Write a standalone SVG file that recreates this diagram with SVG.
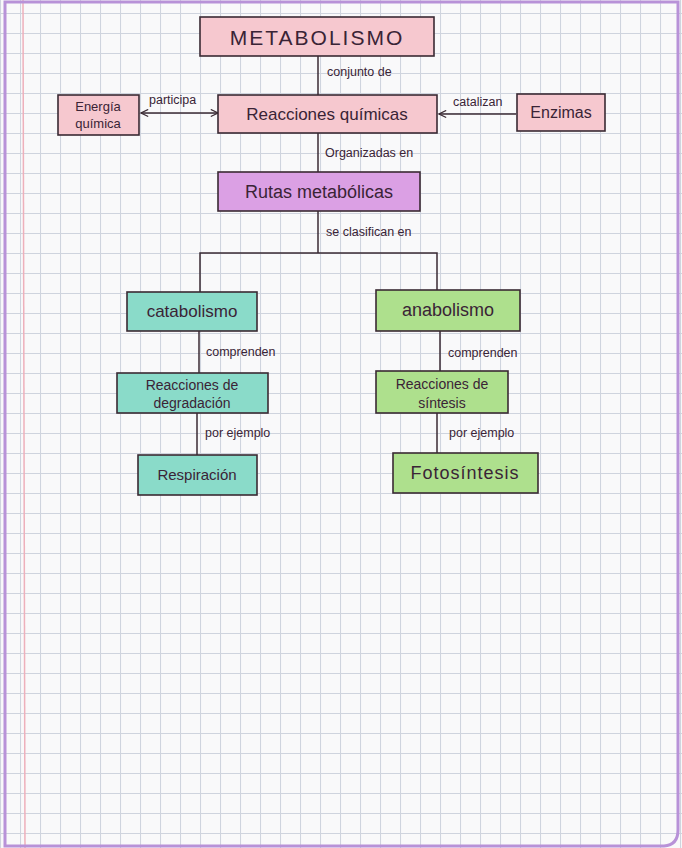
<svg xmlns="http://www.w3.org/2000/svg" width="682" height="848" viewBox="0 0 682 848">
<defs>
<pattern id="grid" x="0" y="13" width="20" height="20" patternUnits="userSpaceOnUse">
<path d="M0 0.5 H20 M0.5 0 V20" stroke="#cfd4de" stroke-width="1.1" fill="none"/>
</pattern>
<marker id="arr" viewBox="0 0 10 10" refX="9" refY="5" markerWidth="9" markerHeight="9" orient="auto-start-reverse" markerUnits="userSpaceOnUse">
<path d="M1 1 L9 5 L1 9" fill="none" stroke="#3a2a33" stroke-width="1.3"/>
</marker>
<style>
.box{stroke:#3a2a33;stroke-width:1.6}
.pink{fill:#f6c8cf}
.purple{fill:#dba0e4}
.teal{fill:#8adbc9}
.green{fill:#aee08d}
.t{font-family:"Liberation Sans","DejaVu Sans",sans-serif;fill:#3a2436;text-anchor:middle}
.lbl{font-family:"Liberation Sans","DejaVu Sans",sans-serif;font-size:12.5px;fill:#3a2436}
.con{stroke:#3a2a33;stroke-width:1.5;fill:none}
</style>
</defs>
<rect width="682" height="848" fill="#f9f9fa"/>
<rect width="682" height="848" fill="url(#grid)"/>
<line x1="23" y1="0" x2="25" y2="848" stroke="#eeb0bb" stroke-width="1.5"/>
<path d="M5 2 H678 V830 Q678 845 664 846 H5 Z" fill="none" stroke="#b892d8" stroke-width="3"/>

<g id="connectors">
<line class="con" x1="318" y1="56" x2="318" y2="95"/>
<text class="lbl" x="327" y="76">conjunto de</text>
<line class="con" x1="218" y1="113" x2="141" y2="113" marker-start="url(#arr)" marker-end="url(#arr)"/>
<text class="lbl" x="149" y="104">participa</text>
<line class="con" x1="516" y1="114" x2="439" y2="114" marker-end="url(#arr)"/>
<text class="lbl" x="453" y="106">catalizan</text>
<line class="con" x1="318" y1="133" x2="318" y2="172"/>
<text class="lbl" x="325" y="157">Organizadas en</text>
<line class="con" x1="318" y1="211" x2="318" y2="253"/>
<text class="lbl" x="326" y="236">se clasifican en</text>
<path class="con" d="M200 292 V253 H437 V291"/>
<line class="con" x1="199" y1="331" x2="199" y2="373"/>
<text class="lbl" x="206" y="356">comprenden</text>
<line class="con" x1="440" y1="331" x2="440" y2="371"/>
<text class="lbl" x="448" y="357">comprenden</text>
<line class="con" x1="197" y1="413" x2="197" y2="455"/>
<text class="lbl" x="205" y="437">por ejemplo</text>
<line class="con" x1="437" y1="413" x2="437" y2="453"/>
<text class="lbl" x="449" y="437">por ejemplo</text>
</g>

<g id="metabolismo">
<rect class="box pink" x="200" y="17" width="234" height="39"/>
<text class="t" x="317" y="45" font-size="21" letter-spacing="2">METABOLISMO</text>
</g>
<g id="reacciones-quimicas">
<rect class="box pink" x="218" y="95" width="219" height="38"/>
<text class="t" x="327" y="120" font-size="17">Reacciones químicas</text>
</g>
<g id="energia-quimica">
<rect class="box pink" x="58" y="95" width="81" height="40"/>
<text class="t" x="98" y="111" font-size="13">Energía</text>
<text class="t" x="98" y="128" font-size="13">química</text>
</g>
<g id="enzimas">
<rect class="box pink" x="517" y="94" width="88" height="37"/>
<text class="t" x="561" y="118" font-size="16">Enzimas</text>
</g>
<g id="rutas-metabolicas">
<rect class="box purple" x="218" y="172" width="202" height="39"/>
<text class="t" x="319" y="198" font-size="18" fill="#4a2352">Rutas metabólicas</text>
</g>
<g id="catabolismo">
<rect class="box teal" x="127" y="292" width="130" height="39"/>
<text class="t" x="192" y="317" font-size="17">catabolismo</text>
</g>
<g id="anabolismo">
<rect class="box green" x="376" y="290" width="144" height="41"/>
<text class="t" x="448" y="316" font-size="18">anabolismo</text>
</g>
<g id="reacciones-degradacion">
<rect class="box teal" x="117" y="373" width="151" height="40"/>
<text class="t" x="192" y="390" font-size="14">Reacciones de</text>
<text class="t" x="192" y="408" font-size="14">degradación</text>
</g>
<g id="reacciones-sintesis">
<rect class="box green" x="376" y="371" width="132" height="42"/>
<text class="t" x="442" y="389" font-size="14">Reacciones de</text>
<text class="t" x="442" y="408" font-size="14">síntesis</text>
</g>
<g id="respiracion">
<rect class="box teal" x="138" y="455" width="119" height="40"/>
<text class="t" x="197" y="480" font-size="15">Respiración</text>
</g>
<g id="fotosintesis">
<rect class="box green" x="393" y="453" width="145" height="40"/>
<text class="t" x="465" y="479" font-size="18" letter-spacing="1">Fotosíntesis</text>
</g>
</svg>
